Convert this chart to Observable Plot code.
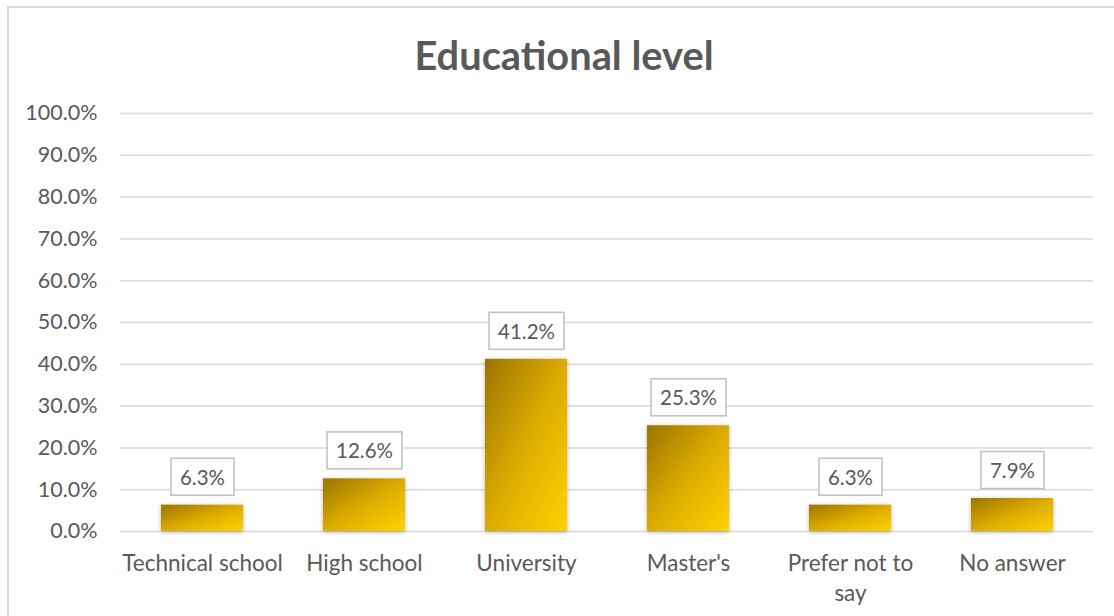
<!DOCTYPE html>
<html>
<head>
<meta charset="utf-8">
<script src="https://cdn.jsdelivr.net/npm/d3@7"></script>
<script src="https://cdn.jsdelivr.net/npm/@observablehq/plot@0.6"></script>
<style>
  html, body { margin: 0; padding: 0; background: #fff; overflow: hidden; width: 1114px; height: 616px; }
  #frame {
    position: absolute; left: 7px; top: 6px; width: 1114px; height: 640px;
    border: 2px solid #d9d9d9; box-sizing: border-box; background: #fff;
  }
  #title {
    position: absolute; left: 0; right: 0; top: 27px;
    text-align: center; font-family: Lato, sans-serif; font-weight: 700;
    font-size: 39.8px; line-height: 39.8px; color: #595959;
  }
  #chart { position: absolute; left: 0; top: 82px; }
</style>
</head>
<body>
<div id="frame">
  <div id="title">Educational level</div>
  <div id="chart"></div>
</div>
<script>
// Share of respondents by highest educational level (%)
const categories = ["Technical school", "High school", "University", "Master's", "Prefer not to say", "No answer"];
const categoryLabels = ["Technical school", "High school", "University", "Master's", "Prefer not to\nsay", "No answer"];
const shares = [6.3, 12.6, 41.2, 25.3, 6.3, 7.9];
const yTicks = [0, 10, 20, 30, 40, 50, 60, 70, 80, 90, 100];

const rows = categories.map((c, i) => ({category: c, label: categoryLabels[i], value: shares[i]}));
const labelOf = new Map(rows.map(d => [d.category, d.label]));
const pct = v => v.toFixed(1) + "%";

// gold diagonal gradient and soft shadow for the bars
const defs = () => {
  const d = d3.create("svg:defs");
  const g = d.append("linearGradient").attr("id", "barGold")
    .attr("x1", 0).attr("y1", 0).attr("x2", 1).attr("y2", 1);
  g.append("stop").attr("offset", "0%").attr("stop-color", "#9a7400");
  g.append("stop").attr("offset", "50%").attr("stop-color", "#dcab00");
  g.append("stop").attr("offset", "100%").attr("stop-color", "#ffd300");
  const f = d.append("filter").attr("id", "barShadow")
    .attr("x", "-20%").attr("y", "-20%").attr("width", "140%").attr("height", "140%");
  f.append("feDropShadow").attr("dx", 0).attr("dy", 1).attr("stdDeviation", 2)
    .attr("flood-color", "#000").attr("flood-opacity", 0.3);
  return d.node();
};

const chart = Plot.plot({
  width: 1105,
  height: 526,
  marginLeft: 111,
  marginRight: 21,
  marginTop: 23,
  marginBottom: 85,
  style: {fontFamily: "Lato, sans-serif", fontSize: "21.5px", color: "#595959", background: "transparent"},
  x: {domain: categories, paddingInner: 0.494, paddingOuter: 0.247, label: null},
  y: {domain: [0, 100], label: null},
  marks: [
    defs,
    Plot.gridY(yTicks, {stroke: "#d9d9d9", strokeOpacity: 1, strokeWidth: 1.5}),
    Plot.axisY({ticks: yTicks, tickSize: 0, tickPadding: 23, tickFormat: pct, label: null, fill: "#595959", fontSize: 21.5}),
    Plot.axisX({tickSize: 0, tickPadding: 19, tickFormat: d => labelOf.get(d), lineHeight: 1.3, label: null, fill: "#595959", fontSize: 22.5}),
    Plot.barY(rows, {x: "category", y: "value", fill: "url(#barGold)"}),
    Plot.text(rows, {
      x: "category", y: "value", text: d => pct(d.value), dy: -27,
      lineAnchor: "middle", fill: "#595959", fontSize: 20.5
    })
  ]
});

document.getElementById("chart").append(chart);

// shadow on bars
d3.select(chart).selectAll('g[aria-label="bar"] rect').attr("filter", "url(#barShadow)");

// boxed data labels
d3.select(chart).selectAll('g[aria-label="text"] text').each(function() {
  const b = this.getBBox();
  const cy = b.y + b.height / 2;
  const w = b.width + 18, h = 37;
  d3.select(this.parentNode).insert("rect", () => this)
    .attr("transform", this.getAttribute("transform"))
    .attr("x", b.x + b.width / 2 - w / 2).attr("y", cy - h / 2)
    .attr("width", w).attr("height", h)
    .attr("fill", "#fff").attr("stroke", "#bfbfbf").attr("stroke-width", 1.5);
});
</script>
</body>
</html>
